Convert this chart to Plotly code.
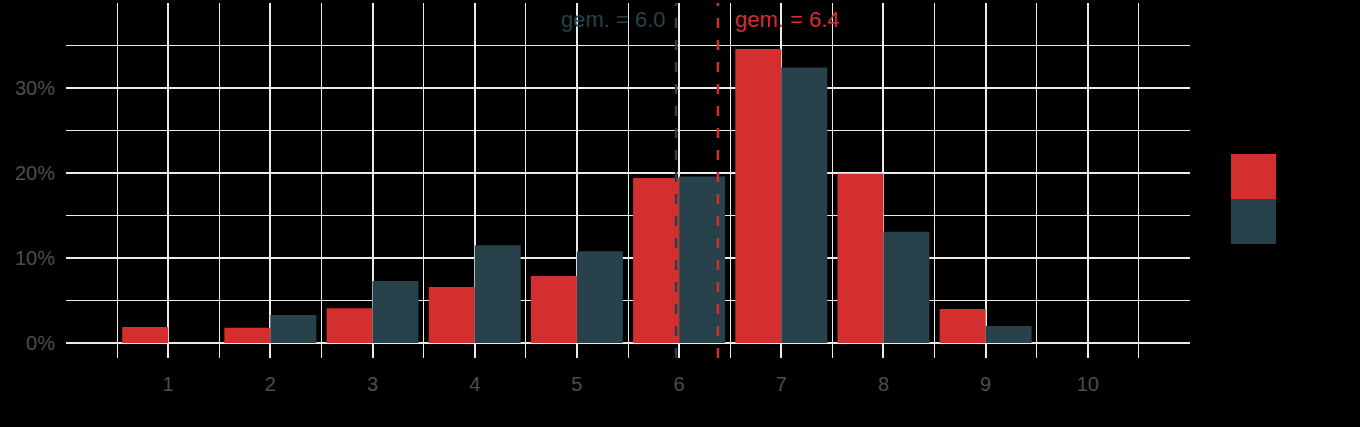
import plotly.graph_objects as go

# ---- data ----
scores = [1, 2, 3, 4, 5, 6, 7, 8, 9, 10]
tick_labels = ["1", "2", "3", "4", "5", "6", "7", "8", "9", "10"]
series_a_pct = [1.9, 1.8, 4.1, 6.6, 7.9, 19.4, 34.6, 19.9, 4.0, 0.0]   # red
series_b_pct = [0.0, 3.3, 7.3, 11.5, 10.8, 19.6, 32.4, 13.1, 2.0, 0.0]  # teal
mean_a = 6.38
mean_b = 5.97
mean_a_label = "gem. = 6.4"
mean_b_label = "gem. = 6.0"
y_ticks = [0, 10, 20, 30]
y_tick_labels = ["0%", "10%", "20%", "30%"]

RED = "#d32f2f"
TEAL = "#27424a"
GRID = "#ebebeb"
TXT = "#4d4d4d"
FONT = "Liberation Sans, Arial, sans-serif"

fig = go.Figure()
fig.add_trace(go.Bar(x=scores, y=series_a_pct, marker=dict(color=RED, line=dict(width=0)),
                     showlegend=False))
fig.add_trace(go.Bar(x=scores, y=series_b_pct, marker=dict(color=TEAL, line=dict(width=0)),
                     showlegend=False))

# mean lines
fig.add_shape(type="line", xref="x", yref="paper", x0=mean_b, x1=mean_b, y0=0, y1=1,
              line=dict(color=TEAL, width=2.5, dash="10px,12px"))
fig.add_shape(type="line", xref="x", yref="paper", x0=mean_a, x1=mean_a, y0=0, y1=1,
              line=dict(color=RED, width=2.5, dash="10px,12px"))

fig.add_annotation(x=mean_b, y=38.1, xref="x", yref="y", text=mean_b_label, showarrow=False,
                   xanchor="right", yanchor="middle", xshift=-8,
                   font=dict(color=TEAL, size=22, family=FONT))
fig.add_annotation(x=mean_a, y=38.1, xref="x", yref="y", text=mean_a_label, showarrow=False,
                   xanchor="left", yanchor="middle", xshift=15,
                   font=dict(color=RED, size=22, family=FONT))

# legend keys
fig.add_shape(type="rect", xref="paper", yref="paper", x0=1.0365, x1=1.0765, y0=0.4479, y1=0.5746,
              fillcolor=RED, line=dict(width=0))
fig.add_shape(type="rect", xref="paper", yref="paper", x0=1.0365, x1=1.0765, y0=0.3211, y1=0.4479,
              fillcolor=TEAL, line=dict(width=0))

minor_x = [0] + [s - 0.5 for s in scores] + [10.5, 11]

fig.update_layout(
    width=1360, height=427,
    margin=dict(l=66, r=170, t=3, b=69),
    paper_bgcolor="black", plot_bgcolor="black",
    barmode="group", bargap=0.1, bargroupgap=0,
    font=dict(family=FONT, color=TXT, size=20),
    showlegend=False,
)
fig.update_xaxes(
    range=[0, 11], tickvals=scores, ticktext=tick_labels, ticks="",
    showgrid=True, gridcolor=GRID, gridwidth=2, zeroline=False, showline=False,
    ticklabelstandoff=12,
    minor=dict(tickvals=minor_x, showgrid=True, gridcolor=GRID, gridwidth=1),
    tickfont=dict(size=20, color=TXT),
)
fig.update_yaxes(
    range=[-1.76, 40], tickvals=y_ticks, ticktext=y_tick_labels, ticks="",
    showgrid=True, gridcolor=GRID, gridwidth=2, zeroline=False, showline=False,
    ticklabelstandoff=10,
    minor=dict(tickvals=[5, 15, 25, 35], showgrid=True, gridcolor=GRID, gridwidth=1),
    tickfont=dict(size=20, color=TXT),
)

fig.write_html(
    "out.html",
    config={"displayModeBar": False},
    post_script="document.body.style.margin='0';document.body.style.background='black';",
)
